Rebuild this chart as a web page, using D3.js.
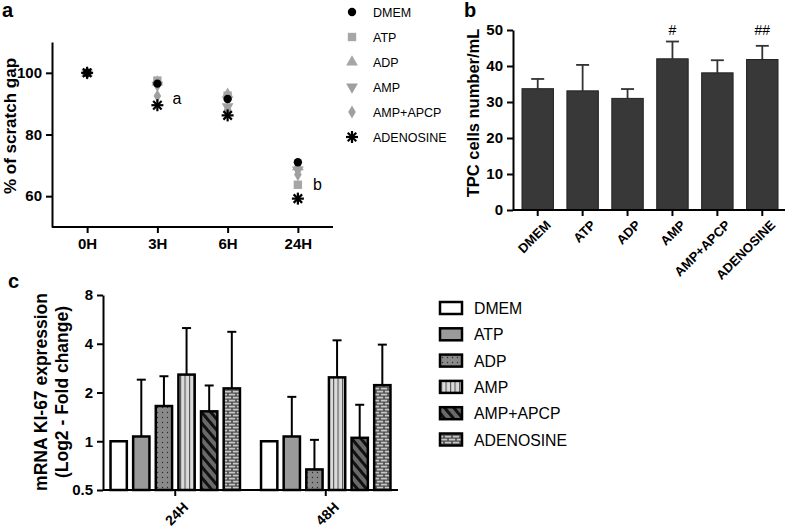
<!DOCTYPE html>
<html><head><meta charset="utf-8">
<script src="https://cdn.jsdelivr.net/npm/d3@7"></script>
<style>
body{margin:0;background:#fff;}
svg{display:block;font-family:"Liberation Sans",Arial,Helvetica,sans-serif;}
</style></head>
<body>
<script>
// ---------- DATA ----------
const timesA = ["0H","3H","6H","24H"];
const seriesA = ["DMEM","ATP","ADP","AMP","AMP+APCP","ADENOSINE"];
const aDMEM = [100, 96.5, 91.5, 71.0];
const aATP = [100, 97.5, 92.6, 63.7];
const aADP = [100, 97.0, 93.0, 69.5];
const aAMP = [100, 96.0, 89.0, 68.5];
const aAMPAPCP = [100, 92.5, 88.0, 67.0];
const aADENOSINE = [100, 89.5, 86.2, 59.2];
const aTicks = [60, 80, 100];
const aLetters = [{t:"3H", v:91.5, s:"a"}, {t:"24H", v:63.5, s:"b"}];

const bCats = ["DMEM","ATP","ADP","AMP","AMP+APCP","ADENOSINE"];
const bMeans = [33.7, 33.1, 31.0, 42.0, 38.1, 41.8];
const bErrTop = [36.4, 40.3, 33.6, 46.8, 41.6, 45.6];
const bSig = ["", "", "", "#", "", "##"];
const bTicks = [0,10,20,30,40,50];

const cGroups = ["24H","48H"];
const cSeries = ["DMEM","ATP","ADP","AMP","AMP+APCP","ADENOSINE"];
const c24Mean = [1.0, 1.07, 1.65, 2.58, 1.53, 2.12];
const c24Err = [1.0, 2.4, 2.52, 5.0, 2.21, 4.74];
const c48Mean = [1.0, 1.07, 0.67, 2.48, 1.05, 2.22];
const c48Err = [1.0, 1.88, 1.02, 4.2, 1.68, 3.95];
const cTicks = [0.5, 1, 2, 4, 8];

// ---------- SVG ----------
const W = 787, H = 529;
const svg = d3.select("body").append("svg").attr("width", W).attr("height", H);
const defs = svg.append("defs");

// patterns for panel c
(function(){
  let p = defs.append("pattern").attr("id","pDots").attr("patternUnits","userSpaceOnUse").attr("width",5).attr("height",5);
  p.append("rect").attr("width",5).attr("height",5).attr("fill","#8a8a8a");
  p.append("circle").attr("cx",2.5).attr("cy",2.5).attr("r",0.7).attr("fill","#2a2a2a");
  p = defs.append("pattern").attr("id","pVert").attr("patternUnits","userSpaceOnUse").attr("width",4.5).attr("height",4);
  p.append("rect").attr("width",4.5).attr("height",4).attr("fill","#dadada");
  p.append("rect").attr("x",0).attr("width",1.1).attr("height",4).attr("fill","#555");
  p = defs.append("pattern").attr("id","pDiag").attr("patternUnits","userSpaceOnUse").attr("width",7).attr("height",7).attr("patternTransform","rotate(-40)");
  p.append("rect").attr("width",7).attr("height",7).attr("fill","#6a6a6a");
  p.append("rect").attr("width",3).attr("height",7).attr("fill","#111");
  p = defs.append("pattern").attr("id","pBrick").attr("patternUnits","userSpaceOnUse").attr("width",8).attr("height",6);
  p.append("rect").attr("width",8).attr("height",6).attr("fill","#4a4a4a");
  p.append("rect").attr("x",0.8).attr("y",0.7).attr("width",6.4).attr("height",1.8).attr("fill","#c8c8c8");
  p.append("rect").attr("x",-3.2).attr("y",3.7).attr("width",6.4).attr("height",1.8).attr("fill","#c8c8c8");
  p.append("rect").attr("x",4.8).attr("y",3.7).attr("width",6.4).attr("height",1.8).attr("fill","#c8c8c8");
})();
const cFills = ["#ffffff","#9a9a9a","url(#pDots)","url(#pVert)","url(#pDiag)","url(#pBrick)"];

function styleAxis(g, fs){
  g.selectAll("path.domain").attr("stroke","#000").attr("stroke-width",2);
  g.selectAll(".tick line").attr("stroke","#000").attr("stroke-width",2);
  g.selectAll(".tick text").attr("font-size",fs).attr("font-weight","bold").attr("fill","#000")
    .attr("font-family","'Liberation Sans',Arial,sans-serif");
}

// ---------- PANEL A ----------
{
  const x = d3.scalePoint().domain(timesA).range([52, 333]).padding(0.5);
  const y = d3.scaleLinear().domain([50, 110]).range([227, 42]);
  const gy = svg.append("g").attr("transform","translate(52,0)")
    .call(d3.axisLeft(y).tickValues(aTicks).tickSize(6).tickSizeOuter(0).tickPadding(4));
  styleAxis(gy, 15);
  const gx = svg.append("g").attr("transform","translate(0,227)")
    .call(d3.axisBottom(x).tickSize(6).tickSizeOuter(0).tickPadding(5));
  gx.select("path.domain").attr("d","M52,0H333");
  styleAxis(gx, 15);
  svg.append("text").attr("transform","translate(16,126) rotate(-90)").attr("text-anchor","middle")
    .attr("font-size",17).attr("font-weight","bold").text("% of scratch gap");
  svg.append("text").attr("x",2).attr("y",17).attr("font-size",20).attr("font-weight","bold").text("a");

  const sym = {
    "ATP": {type:d3.symbolSquare, size:70, fill:"#a6a6a6"},
    "ADP": {type:d3.symbolTriangle, size:60, fill:"#a6a6a6"},
    "AMP": {type:d3.symbolTriangle, size:60, fill:"#a0a0a0", rot:180},
    "AMP+APCP": {type:d3.symbolDiamond, size:50, fill:"#a0a0a0"},
    "DMEM": {type:d3.symbolCircle, size:55, fill:"#000"}
  };
  const vals = {"DMEM":aDMEM,"ATP":aATP,"ADP":aADP,"AMP":aAMP,"AMP+APCP":aAMPAPCP,"ADENOSINE":aADENOSINE};
  function star(g, cx, cy, r){
    const s = g.append("g").attr("transform",`translate(${cx},${cy})`);
    [0,45,90,135].forEach(a=>{
      const rad = a*Math.PI/180;
      s.append("line").attr("x1",-r*Math.cos(rad)).attr("y1",-r*Math.sin(rad))
        .attr("x2",r*Math.cos(rad)).attr("y2",r*Math.sin(rad)).attr("stroke","#000").attr("stroke-width",2.2);
    });
  }
  function drawSym(g, name, cx, cy){
    if(name==="ADENOSINE"){ star(g,cx,cy,6); return; }
    const s = sym[name];
    g.append("path").attr("d", d3.symbol().type(s.type).size(s.size)())
      .attr("transform",`translate(${cx},${cy}) rotate(${s.rot||0})`).attr("fill",s.fill);
  }
  const gp = svg.append("g");
  ["ATP","ADP","AMP","AMP+APCP","ADENOSINE","DMEM"].forEach(name=>{
    vals[name].forEach((v,i)=>drawSym(gp, name, x(timesA[i]), y(v)));
  });
  aLetters.forEach(l=>{
    svg.append("text").attr("x", x(l.t)+15).attr("y", y(l.v)+5).attr("font-size",16).text(l.s);
  });
  // legend
  const lg = svg.append("g");
  seriesA.forEach((name,i)=>{
    const cy = 12 + i*25;
    drawSym(lg, name, 352, cy);
    lg.append("text").attr("x",373).attr("y",cy+5).attr("font-size",12.5).text(name);
  });
}

// ---------- PANEL B ----------
{
  const x = d3.scaleBand().domain(bCats).range([522, 778]).paddingInner(0.3).paddingOuter(0);
  const y = d3.scaleLinear().domain([0, 50]).range([210, 30]);
  svg.append("text").attr("x",464).attr("y",17).attr("font-size",20).attr("font-weight","bold").text("b");
  const g = svg.append("g");
  bCats.forEach((c,i)=>{
    const cx = x(c)+x.bandwidth()/2;
    g.append("line").attr("x1",cx).attr("x2",cx).attr("y1",y(bMeans[i])).attr("y2",y(bErrTop[i]))
      .attr("stroke","#333").attr("stroke-width",1.8);
    g.append("line").attr("x1",cx-6.5).attr("x2",cx+6.5).attr("y1",y(bErrTop[i])).attr("y2",y(bErrTop[i]))
      .attr("stroke","#333").attr("stroke-width",1.8);
    g.append("rect").attr("x",x(c)).attr("y",y(bMeans[i])).attr("width",x.bandwidth())
      .attr("height",y(0)-y(bMeans[i])).attr("fill","#383838").attr("stroke","#222").attr("stroke-width",1);
    if(bSig[i]) g.append("text").attr("x",cx).attr("y",y(50)+5).attr("text-anchor","middle")
      .attr("font-size",14).text(bSig[i]);
  });
  const gy = svg.append("g").attr("transform","translate(513,0)")
    .call(d3.axisLeft(y).tickValues(bTicks).tickSize(6).tickSizeOuter(0).tickPadding(4));
  styleAxis(gy, 15);
  const gx = svg.append("g").attr("transform","translate(0,210)")
    .call(d3.axisBottom(x).tickSize(6).tickSizeOuter(0).tickPadding(4));
  gx.select("path.domain").attr("d","M513,0H785");
  styleAxis(gx, 13);
  gx.selectAll(".tick text").attr("text-anchor","end").attr("dy","0.3em")
    .attr("transform","translate(4,6) rotate(-45)");
  svg.append("text").attr("transform","translate(479,113) rotate(-90)").attr("text-anchor","middle")
    .attr("font-size",16.5).attr("font-weight","bold").text("TPC cells number/mL");
}

// ---------- PANEL C ----------
{
  const x0 = d3.scaleBand().domain(cGroups).range([103, 398]).paddingInner(0.14).paddingOuter(0.05);
  const x1 = d3.scaleBand().domain(cSeries).range([0, x0.bandwidth()]).paddingInner(0.28).paddingOuter(0);
  const y = d3.scaleLog().base(2).domain([0.5, 8]).range([490, 295]);
  svg.append("text").attr("x",8).attr("y",288).attr("font-size",20).attr("font-weight","bold").text("c");
  const g = svg.append("g");
  const data = {"24H":[c24Mean,c24Err], "48H":[c48Mean,c48Err]};
  cGroups.forEach(gr=>{
    const [m,e] = data[gr];
    cSeries.forEach((s,i)=>{
      const bx = x0(gr)+x1(s), bw = x1.bandwidth(), cx = bx+bw/2;
      if(e[i] > m[i]){
        g.append("line").attr("x1",cx).attr("x2",cx).attr("y1",y(m[i])).attr("y2",y(e[i]))
          .attr("stroke","#000").attr("stroke-width",2);
        g.append("line").attr("x1",cx-4.5).attr("x2",cx+4.5).attr("y1",y(e[i])).attr("y2",y(e[i]))
          .attr("stroke","#000").attr("stroke-width",2);
      }
      g.append("rect").attr("x",bx).attr("y",y(m[i])).attr("width",bw).attr("height",y(0.5)-y(m[i]))
        .attr("fill",cFills[i]).attr("stroke","#000").attr("stroke-width",2.5);
    });
  });
  const gy = svg.append("g").attr("transform","translate(103,0)")
    .call(d3.axisLeft(y).tickValues(cTicks).tickFormat(d=>String(d)).tickSize(6).tickSizeOuter(0).tickPadding(4));
  styleAxis(gy, 15);
  const gx = svg.append("g").attr("transform","translate(0,490)")
    .call(d3.axisBottom(x0).tickSize(6).tickSizeOuter(0).tickPadding(4));
  gx.select("path.domain").attr("d","M103,0H398");
  styleAxis(gx, 14);
  gx.selectAll(".tick text").attr("text-anchor","end").attr("dy","0.3em")
    .attr("transform","translate(4,8) rotate(-45)");
  const yl = svg.append("text").attr("transform","translate(47,392) rotate(-90)").attr("text-anchor","middle")
    .attr("font-size",17.5).attr("font-weight","bold");
  yl.append("tspan").attr("x",0).attr("dy",0).text("mRNA KI-67 expression");
  yl.append("tspan").attr("x",0).attr("dy",21).text("(Log2 - Fold change)");
  // legend
  const lg = svg.append("g");
  cSeries.forEach((s,i)=>{
    const cy = 308 + i*26.3;
    lg.append("rect").attr("x",440).attr("y",cy-6).attr("width",22).attr("height",12)
      .attr("fill",cFills[i]).attr("stroke","#000").attr("stroke-width",2.5);
    lg.append("text").attr("x",474).attr("y",cy+6).attr("font-size",15.8).text(s);
  });
}
</script>
</body></html>
